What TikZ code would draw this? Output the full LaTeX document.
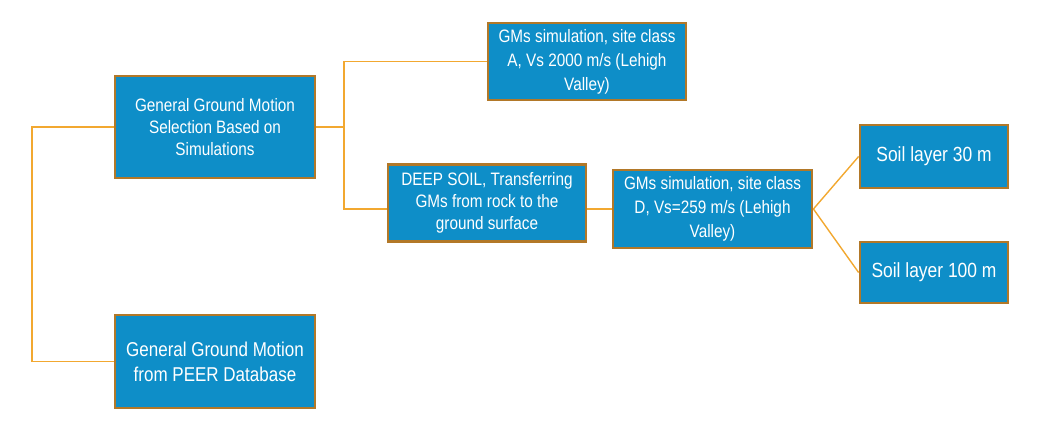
\documentclass[tikz,border=0pt]{standalone}
\usepackage{fontspec}
\setmainfont{Liberation Sans}[FakeStretch=0.85]
\definecolor{boxfill}{RGB}{14,142,200}
\definecolor{boxedge}{RGB}{178,120,40}
\definecolor{link}{RGB}{242,168,48}
\tikzset{
  gmbox/.style={draw=boxedge, line width=2.8pt, fill=boxfill, text=white, align=center, inner sep=2pt},
  txt/.style={font=\fontsize{18}{22}\selectfont},
  txtw/.style={font=\fontsize{18}{24}\selectfont},
  bigtxt/.style={font=\fontsize{20.5}{25}\selectfont},
  conn/.style={draw=link, line width=1.4pt}
}
\begin{document}
\begin{tikzpicture}[x=1pt,y=-1pt]
\useasboundingbox (0,0) rectangle (1038,424);
\node[gmbox, txt, minimum width=200pt, minimum height=102pt] (b1) at (215,127) {General Ground Motion\\Selection Based on\\Simulations};
\node[gmbox, txtw, minimum width=198pt, minimum height=77pt] (top) at (587,61.5) {GMs simulation, site class\\A, Vs 2000 m/s (Lehigh\\Valley)};
\node[gmbox, txt, minimum width=198pt, minimum height=77pt] (deep) at (487,203) {DEEP SOIL, Transferring\\GMs from rock to the\\ground surface};
\node[gmbox, txtw, minimum width=199pt, minimum height=78pt] (D) at (712.5,209) {GMs simulation, site class\\D, Vs=259 m/s (Lehigh\\Valley)};
\node[gmbox, bigtxt, minimum width=148pt, minimum height=63pt] (s30) at (934,156.5) {Soil layer 30 m};
\node[gmbox, bigtxt, minimum width=148pt, minimum height=61pt] (s100) at (934,272.5) {Soil layer 100 m};
\node[gmbox, font=\fontsize{20}{25}\selectfont, minimum width=200pt, minimum height=93pt] (peer) at (215,361.5) {General Ground Motion\\from PEER Database};
\coordinate (jl) at (32,127);
\coordinate (jr) at (344,127);
\draw[conn] (b1.west) -- (jl) |- (peer.west);
\draw[conn] (b1.east) -- (jr);
\draw[conn] (top.west) -| (jr) |- (deep.west|-D.west);
\draw[conn] (deep.east|-D.west) -- (D.west);
\draw[conn] (D.east) -- (s30.west);
\draw[conn] (D.east) -- (s100.west);
\end{tikzpicture}
\end{document}
